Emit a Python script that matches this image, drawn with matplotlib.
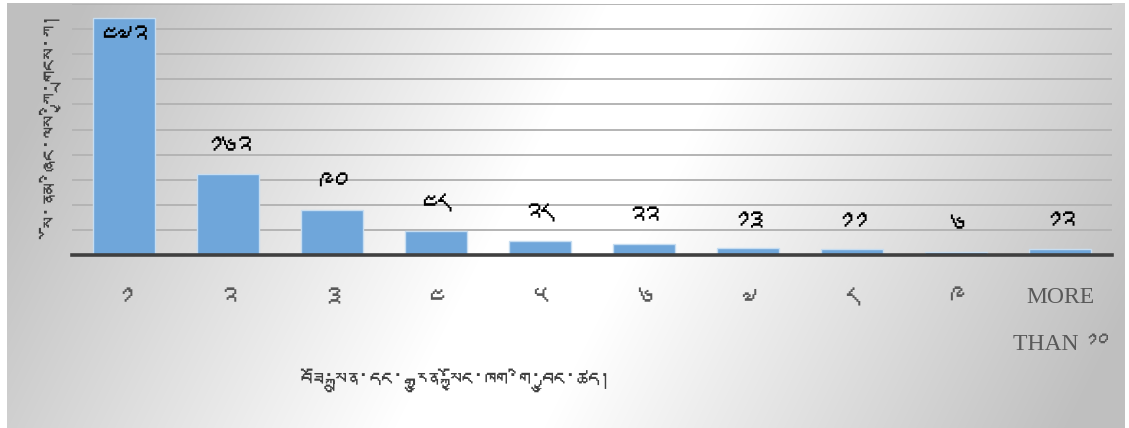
import numpy as np
import matplotlib
matplotlib.use('Agg')
import matplotlib.pyplot as plt
from matplotlib import font_manager, ft2font

# categories and counts (Tibetan numerals)
categories = ['༡', '༢', '༣', '༤', '༥', '༦', '༧', '༨', '༩', 'MORE\nTHAN ༡༠']
counts = [472, 162, 90, 48, 28, 22, 13, 11, 6, 12]
count_labels = ['༤༧༢', '༡༦༢', '༩༠', '༤༨', '༢༨', '༢༢', '༡༣', '༡༡', '༦', '༡༢']
xlabel = 'བཟོ་སྐྲུན་དང་ རྒྱུན་སྐྱོང་ཁག་གི་བྱུང་ཚད།'
ylabel = 'སོ་ནམ་ཞིང་ལས་ཀྱི་གྲངས་ཀ།'


def tibetan_family():
    # look for any installed font that has Tibetan glyphs
    for f in font_manager.fontManager.ttflist:
        try:
            if 0x0F0B in ft2font.FT2Font(f.fname).get_charmap():
                return f.name
        except Exception:
            pass
    return None


tib = tibetan_family()
families = ([tib] if tib else []) + ['DejaVu Sans']
plt.rcParams['font.family'] = families

fig = plt.figure(figsize=(11.29, 4.28), dpi=100)
fig.patch.set_facecolor('white')

# gradient background of the chart area
bg = fig.add_axes([7 / 1129, 0, 1118 / 1129, 1 - 3 / 428], zorder=-10)
h, w = 425, 1118
yy, xx = np.mgrid[0:h, 0:w]
t = 2 * xx + yy
shade = 1 - 0.25 * np.clip((np.abs(t - 1350) - 150) / 1050, 0, 1)
bg.imshow(np.dstack([shade] * 3), aspect='auto', extent=[0, 1, 0, 1])
bg.set_axis_off()

ax = fig.add_axes([72 / 1129, 1 - 255 / 428, 1040 / 1129, 251 / 428])
ax.set_facecolor('none')
x = np.arange(len(counts))
ax.bar(x, counts, width=0.6, color='#6fa6da', edgecolor='#c6ddf1', linewidth=1, zorder=3)
ax.set_xlim(-0.5, len(counts) - 0.5)
ax.set_ylim(0, 500)
ax.set_yticks(np.arange(50, 501, 50))
ax.yaxis.grid(True, color='#b4b4b4', linewidth=1.4, zorder=0)
ax.tick_params(axis='y', length=0, labelleft=False)
for s in ['top', 'right', 'left']:
    ax.spines[s].set_visible(False)
ax.spines['bottom'].set_color('#404040')
ax.spines['bottom'].set_linewidth(2.6)
ax.spines['bottom'].set_zorder(4)

ax.set_xticks(x)
ax.set_xticklabels(categories, fontsize=22, color='#595959', linespacing=2.5,
                   family=['Liberation Serif'] + families)
ax.tick_params(axis='x', length=0, pad=23)
ax.get_xticklabels()[-1].set_fontsize(17)
ax.get_xticklabels()[-1].set_linespacing(2.65)

for xi, v, lab in zip(x, counts, count_labels):
    ax.text(xi, min(v + 48, 430), lab, ha='center', va='center',
            fontsize=22, fontweight='bold', color='black', zorder=5)

xl = fig.text(455 / 1129, 1 - 380 / 428, xlabel, ha='center', va='center',
              fontsize=26, color='#404040')
yl = fig.text(62 / 1129, 1 - 132 / 428, ylabel, ha='center', va='center',
              rotation=90, fontsize=26, color='#404040')

# keep the axis titles about as long as in the reference
renderer = fig.canvas.get_renderer()
for txt, target, horiz in [(xl, 310, True), (yl, 212, False)]:
    bb = txt.get_window_extent(renderer)
    size = bb.width if horiz else bb.height
    if size > target:
        txt.set_fontsize(txt.get_fontsize() * target / size)

fig.savefig('out.png', dpi=100)
